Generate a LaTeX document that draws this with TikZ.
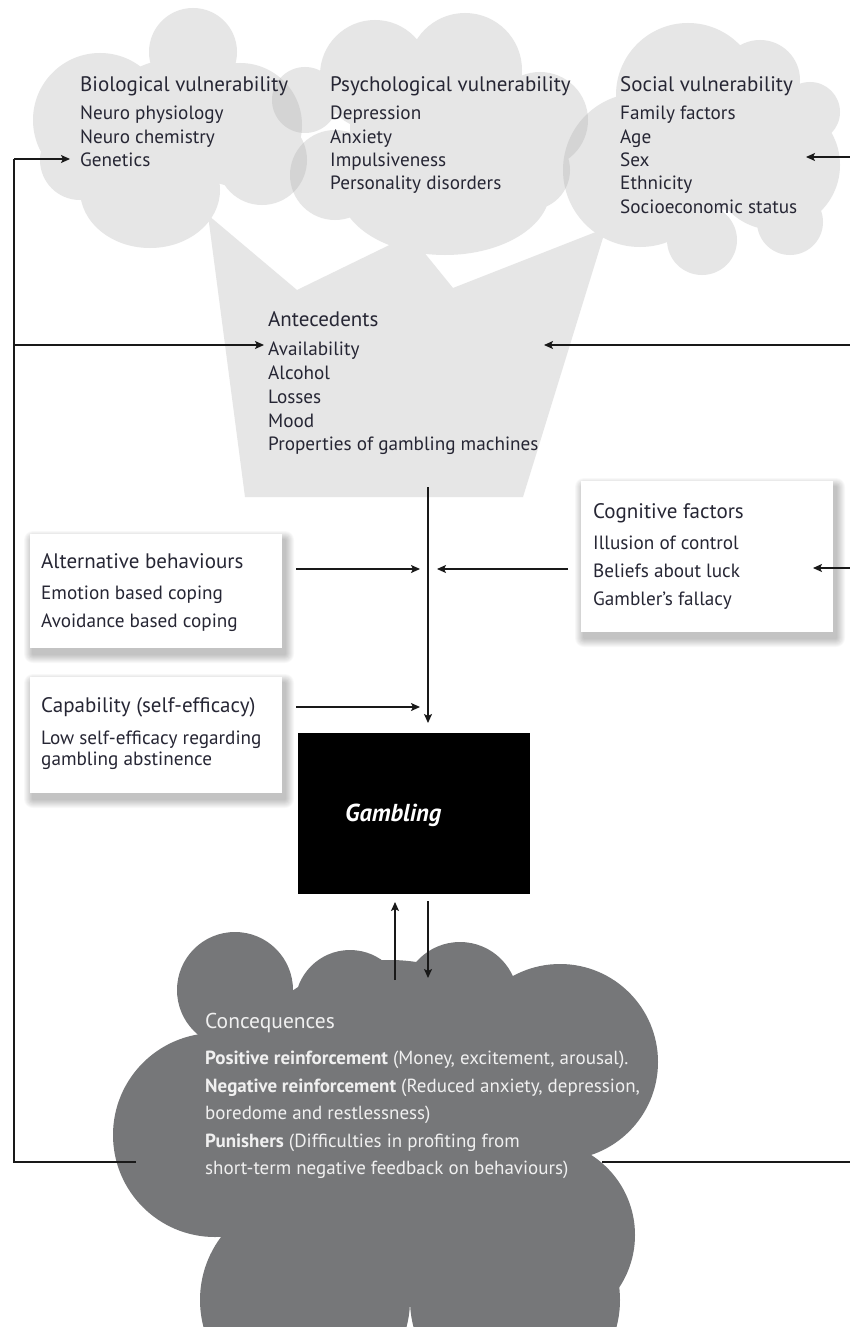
\documentclass[tikz,border=0pt]{standalone}
\usepackage{fontspec}
\setmainfont{PT Sans}
\usetikzlibrary{arrows.meta}
\definecolor{cloudlt}{RGB}{230,230,230}
\definecolor{cloudov}{RGB}{212,212,212}
\definecolor{clouddk}{RGB}{118,119,121}
\definecolor{txt}{RGB}{38,38,52}
\definecolor{linec}{RGB}{25,25,25}
\definecolor{wtxt}{RGB}{240,240,240}
\newcommand\softshadow[4]{%
  \foreach \k in {1,...,9}{\fill[black,opacity=0.028,rounded corners=\k pt] (#1+3-\k,#2+6-\k) rectangle (#3+3+\k,#4+6+\k);}}
\tikzset{
  ttl/.style={font=\fontsize{21}{24}\selectfont, text=txt, anchor=base west, inner sep=0pt},
  itm/.style={font=\fontsize{19.2}{22}\selectfont, text=txt, anchor=base west, inner sep=0pt},
  wttl/.style={font=\fontsize{21.5}{24}\selectfont, text=wtxt, anchor=base west, inner sep=0pt},
  witm/.style={font=\fontsize{19}{22}\selectfont, text=wtxt, anchor=base west, inner sep=0pt},
  whitebox/.style={fill=white, draw=none, anchor=north west, inner sep=0pt},
  ln/.style={draw=linec, line width=1.4pt},
  arr/.style={draw=linec, line width=1.4pt, -{Stealth[length=9pt,width=8pt,inset=2pt]}},
  biocloud/.style={insert path={(193,52) circle[radius=44] (100,120) circle[radius=67] (80,160) circle[radius=40]
     (150,190) ellipse[x radius=70, y radius=58] (240,125) circle[radius=62] (262,160) circle[radius=45] (170,130) circle[radius=70]}},
  psycloud/.style={insert path={(375,75) circle[radius=55] (465,70) circle[radius=57] (540,120) circle[radius=48]
     (305,100) circle[radius=33] (335,175) circle[radius=45] (445,190) ellipse[x radius=105, y radius=65]
     (530,170) circle[radius=40] (430,130) circle[radius=80]}},
  soccloud/.style={insert path={(688,95) circle[radius=72] (760,80) circle[radius=40] (640,170) circle[radius=77]
     (810,112) circle[radius=30] (775,165) circle[radius=65] (790,222) circle[radius=33] (702,240) circle[radius=35]
     (730,150) circle[radius=60]}},
  cqcloud/.style={insert path={(235,990) circle[radius=58] (350,1005) circle[radius=55] (460,1000) circle[radius=58]
     (560,1062) circle[radius=98] (540,1235) circle[radius=95] (215,1135) circle[radius=102]
     (305,1300) circle[radius=105] (515,1300) circle[radius=105] (390,1130) circle[radius=170]}}
}
\begin{document}
\begin{tikzpicture}[x=1pt,y=-1pt]
\useasboundingbox (0,0) rectangle (849,1327);
\fill[white] (0,0) rectangle (849,1327);

% antecedents funnel and vulnerability clouds
\fill[cloudlt] (208,215) -- (297,290) -- (410,235) -- (453,288) -- (606,228) -- (523,497) -- (245,497) -- cycle;
\fill[cloudlt, biocloud];
\fill[cloudlt, psycloud];
\fill[cloudlt, soccloud];
\begin{scope}\clip[biocloud]; \fill[cloudov, psycloud];\end{scope}
\begin{scope}\clip[soccloud]; \fill[cloudov, psycloud];\end{scope}

% consequences cloud
\fill[clouddk, cqcloud];

% white boxes with soft shadows
\softshadow{581}{481}{833}{632}
\softshadow{30}{534}{282}{648}
\softshadow{30}{677}{282}{793}
\node[whitebox, minimum width=252pt, minimum height=151pt] (cogbox) at (581,481) {};
\node[whitebox, minimum width=252pt, minimum height=114pt] (altbox) at (30,534) {};
\node[whitebox, minimum width=252pt, minimum height=116pt] (capbox) at (30,677) {};
\node[fill=black, draw=none, anchor=north west, inner sep=0pt, minimum width=232pt, minimum height=161pt] (gbox) at (298,733) {};

% texts
\node[ttl] (bio-t) at (80,92) {Biological vulnerability};
\node[itm] (bio-1) at (80,120) {Neuro physiology};
\node[itm] (bio-2) at (80,143) {Neuro chemistry};
\node[itm] (bio-3) at (80,166) {Genetics};

\node[ttl] (psy-t) at (330,92) {Psychological vulnerability};
\node[itm] (psy-1) at (330,120) {Depression};
\node[itm] (psy-2) at (330,143) {Anxiety};
\node[itm] (psy-3) at (330,166) {Impulsiveness};
\node[itm] (psy-4) at (330,189) {Personality disorders};

\node[ttl] (soc-t) at (620,92) {Social vulnerability};
\node[itm] (soc-1) at (620,120) {Family factors};
\node[itm] (soc-2) at (620,143) {Age};
\node[itm] (soc-3) at (620,166) {Sex};
\node[itm] (soc-4) at (620,189) {Ethnicity};
\node[itm] (soc-5) at (620,213) {Socioeconomic status};

\node[ttl] (ant-t) at (268,326) {Antecedents};
\node[itm] (ant-1) at (268,355) {Availability};
\node[itm] (ant-2) at (268,379) {Alcohol};
\node[itm] (ant-3) at (268,403) {Losses};
\node[itm] (ant-4) at (268,427) {Mood};
\node[itm] (ant-5) at (268,450) {Properties of gambling machines};

\node[ttl] (cog-t) at (593,518) {Cognitive factors};
\node[itm] (cog-1) at (593,549) {Illusion of control};
\node[itm] (cog-2) at (593,577) {Beliefs about luck};
\node[itm] (cog-3) at (593,605) {Gambler's fallacy};

\node[ttl] (alt-t) at (41,568) {Alternative behaviours};
\node[itm] (alt-1) at (41,599) {Emotion based coping};
\node[itm] (alt-2) at (41,627) {Avoidance based coping};

\node[ttl] (cap-t) at (41,712) {Capability (self-efficacy)};
\node[itm] (cap-1) at (41,744) {Low self-efficacy regarding};
\node[itm] (cap-2) at (41,765) {gambling abstinence};

\node[font=\fontsize{24.5}{28}\selectfont\bfseries\itshape, text=white, anchor=base west, inner sep=0pt] (gamb) at (345,821) {Gambling};

\node[wttl] (cq-t) at (205,1028) {Concequences};
\node[witm] (cq-1) at (205,1064) {\textbf{Positive reinforcement} (Money, excitement, arousal).};
\node[witm] (cq-2) at (205,1092) {\textbf{Negative reinforcement} (Reduced anxiety, depression,};
\node[witm] (cq-3) at (205,1119) {boredome and restlessness)};
\node[witm] (cq-4) at (205,1147) {\textbf{Punishers} (Difficulties in profiting from};
\node[witm] (cq-5) at (205,1174) {short-term negative feedback on behaviours)};

% connector end points
\coordinate (cqL) at (136,1162);
\coordinate (L0) at (14,1162);
\coordinate (L1) at (14,159);
\coordinate (L2) at (14,345);
\coordinate (bioTip) at (70,159);
\coordinate (antTipL) at (264,345);
\coordinate (cqR) at (602,1162);
\coordinate (R0) at (852,1162);
\coordinate (R1) at (852,157);
\coordinate (R2) at (852,345);
\coordinate (R3) at (852,568);
\coordinate (socTip) at (806,157);
\coordinate (antTipR) at (544,345);
\coordinate (cogTip) at (813,568);
\coordinate (antOut) at (428,487);
\coordinate (gbIn) at (428,723);
\coordinate (altOut) at (296,569);
\coordinate (altIn) at (420,569);
\coordinate (cogOut) at (568,569);
\coordinate (cogIn) at (437,569);
\coordinate (capOut) at (296,707);
\coordinate (capIn) at (420,707);
\coordinate (cqUp) at (395,980);
\coordinate (gbUp) at (395,902);
\coordinate (gbDown) at (428,901);
\coordinate (cqDown) at (428,978);

% connectors
\draw[ln] (cqL) -- (L0) -- (L1);
\draw[arr] (L1) -- (bioTip);
\draw[arr] (L2) -- (antTipL);
\draw[ln] (cqR) -- (R0) -- (R1);
\draw[arr] (R1) -- (socTip);
\draw[arr] (R2) -- (antTipR);
\draw[arr] (R3) -- (cogTip);
\draw[arr] (antOut) -- (gbIn);
\draw[arr] (altOut) -- (altIn);
\draw[arr] (cogOut) -- (cogIn);
\draw[arr] (capOut) -- (capIn);
\draw[arr] (cqUp) -- (gbUp);
\draw[arr] (gbDown) -- (cqDown);
\end{tikzpicture}
\end{document}
